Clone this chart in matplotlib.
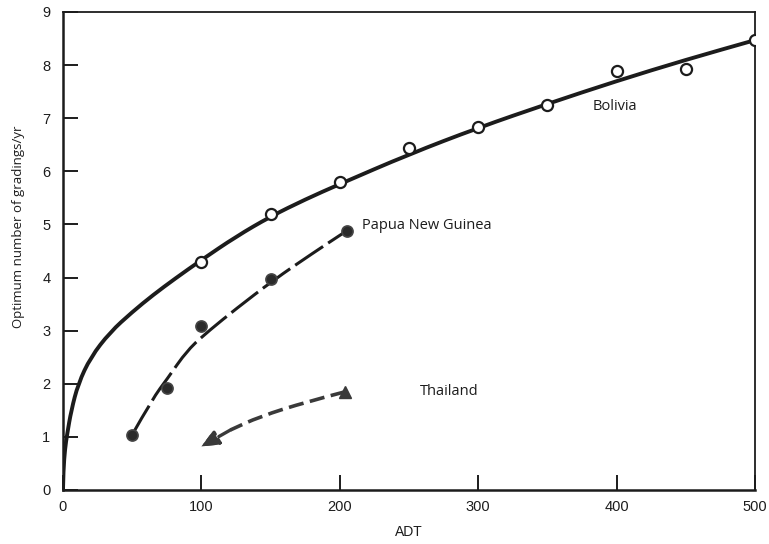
import matplotlib
matplotlib.use("Agg")
import matplotlib.pyplot as plt
from matplotlib.path import Path
from matplotlib.patches import PathPatch

plt.rcParams["font.family"] = ["Liberation Sans", "DejaVu Sans"]

INK = "#1c1c1c"
GREY = "#3a3a3a"
LABEL_FONT = ["Open Sans", "DejaVu Sans"]

# Bolivia: observed optimum and the fitted curve through them
bolivia_adt = [100, 150, 200, 250, 300, 350, 400, 450, 500]
bolivia_grad = [4.3, 5.2, 5.8, 6.43, 6.83, 7.25, 7.88, 7.92, 8.47]
bolivia_fit_adt = [0, 0.3, 1.5, 3, 6, 11, 20, 34, 50, 65, 81, 100,
                   125, 150, 175, 200, 250, 300, 350, 400, 450, 500]
bolivia_fit_grad = [0, 0.38, 0.78, 1.05, 1.5, 2.0, 2.5, 2.97, 3.35, 3.67,
                    3.98, 4.33, 4.77, 5.15, 5.47, 5.76, 6.32, 6.82, 7.27,
                    7.7, 8.1, 8.47]

# Papua New Guinea
png_adt = [50, 75, 100, 150, 205]
png_grad = [1.04, 1.92, 3.09, 3.97, 4.88]
png_fit_adt = [50, 65, 75, 90, 106, 125, 152, 180, 205]
png_fit_grad = [1.04, 1.73, 2.08, 2.64, 3.01, 3.41, 3.95, 4.45, 4.88]

# Thailand trend (from the triangle towards the arrow tip)
thai_adt = [204, 176, 142, 121, 100]
thai_grad = [1.85, 1.66, 1.38, 1.13, 0.82]


def smooth_curve(xs, ys):
    """Quadratic B-spline style path through the listed points."""
    verts = [(xs[0], ys[0])]
    codes = [Path.MOVETO]
    for i in range(1, len(xs) - 1):
        verts.append((xs[i], ys[i]))
        verts.append(((xs[i] + xs[i + 1]) / 2, (ys[i] + ys[i + 1]) / 2))
        codes += [Path.CURVE3, Path.CURVE3]
    verts.append((xs[-1], ys[-1]))
    codes.append(Path.LINETO)
    return Path(verts, codes)


fig = plt.figure(figsize=(7.69, 5.44), dpi=100)
ax = fig.add_axes([0.0819, 0.0993, 0.8999, 0.8787])

ax.add_patch(PathPatch(smooth_curve(bolivia_fit_adt, bolivia_fit_grad),
                       fill=False, ec=INK, lw=2.8, capstyle="round",
                       zorder=2))
ax.plot(bolivia_adt, bolivia_grad, "o", ms=8, mfc="white", mec=INK,
        mew=1.6, zorder=3)

ax.add_patch(PathPatch(smooth_curve(png_fit_adt, png_fit_grad),
                       fill=False, ec=INK, lw=2.2,
                       linestyle=(0, (11, 2.0)), zorder=2))
ax.plot(png_adt, png_grad, "o", ms=8, mfc="#2a2a2a", mec="#444444",
        mew=1.2, zorder=3)

# dashed trend stops short of the tip, the head finishes it
ax.add_patch(PathPatch(smooth_curve(thai_adt[:-1], thai_grad[:-1]),
                       fill=False, ec=GREY, lw=2.6,
                       linestyle=(0, (4.2, 1.8)), zorder=2))
ax.annotate("", xy=(thai_adt[-1], thai_grad[-1]),
            xytext=(thai_adt[-2], thai_grad[-2]),
            arrowprops=dict(arrowstyle="-|>,head_length=0.5,head_width=0.22",
                            mutation_scale=20, color=GREY, lw=2.4,
                            linestyle=(0, (4.0, 1.8)),
                            shrinkA=0, shrinkB=0))
ax.annotate("", xy=(thai_adt[-1], thai_grad[-1]),
            xytext=(thai_adt[-2], thai_grad[-2]),
            arrowprops=dict(arrowstyle="-|>,head_length=0.5,head_width=0.22",
                            mutation_scale=20, color=GREY, lw=0,
                            shrinkA=0, shrinkB=0))
ax.plot(thai_adt[0], thai_grad[0], "^", ms=8, color=GREY, zorder=3)

ax.text(383, 7.22, "Bolivia", fontsize=10.5, color=INK, va="center",
        family=LABEL_FONT)
ax.text(216, 4.98, "Papua New Guinea", fontsize=10.5, color=INK,
        va="center", family=LABEL_FONT)
ax.text(258, 1.85, "Thailand", fontsize=10.5, color=INK, va="center",
        family=LABEL_FONT)

ax.set_xlim(0, 500)
ax.set_ylim(0, 9)
ax.set_xticks(range(0, 501, 100))
ax.set_yticks(range(0, 10))
ax.tick_params(direction="in", length=11, width=1.4, colors=INK,
               labelsize=10.5, top=False, right=False)
ax.tick_params(axis="y", pad=9)
ax.tick_params(axis="x", pad=7)

for side in ["left", "bottom"]:
    ax.spines[side].set_linewidth(1.8)
for side in ["top", "right"]:
    ax.spines[side].set_linewidth(1.3)
for sp in ax.spines.values():
    sp.set_color(INK)

ax.set_xlabel("ADT", fontsize=10, color=INK, labelpad=8)
ax.set_ylabel("Optimum number of gradings/yr", fontsize=9.5, color=INK,
              family=LABEL_FONT)
ax.yaxis.set_label_coords(-0.055, 0.55)

fig.savefig("out.png", dpi=100)
